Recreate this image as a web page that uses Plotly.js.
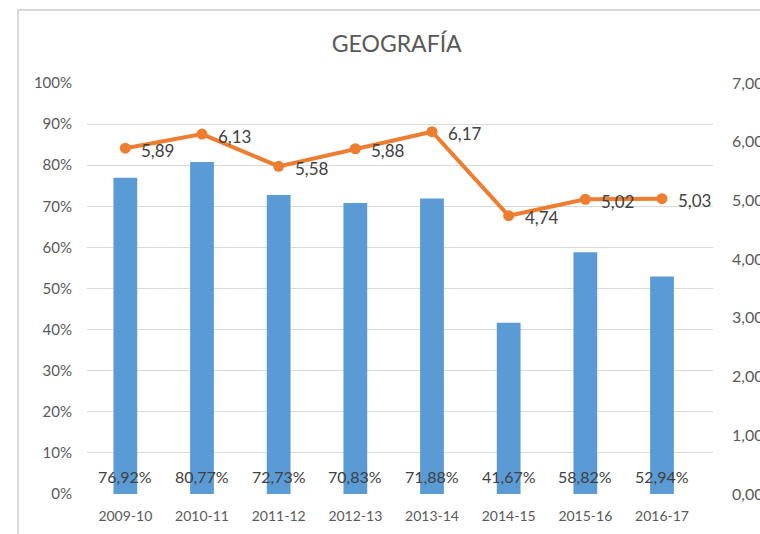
<!DOCTYPE html>
<html>
<head>
<meta charset="utf-8">
<script src="https://cdn.plot.ly/plotly-3.0.1.min.js"></script>
<style>
  html, body { margin:0; padding:0; background:#fff; overflow:hidden; }
  #frame { position:absolute; left:17px; top:9px; width:800px; height:600px; border-left:2px solid #d9d9d9; border-top:2px solid #d9d9d9; }
  #chart { position:absolute; left:0; top:0; width:760px; height:534px; }
</style>
</head>
<body>
<div id="frame"></div>
<div id="chart"></div>
<script>
const categories = ['2009-10','2010-11','2011-12','2012-13','2013-14','2014-15','2015-16','2016-17'];
const pctValues = [76.92, 80.77, 72.73, 70.83, 71.88, 41.67, 58.82, 52.94];
const gradeValues = [5.89, 6.13, 5.58, 5.88, 6.17, 4.74, 5.02, 5.03];
const leftTicks = [0,10,20,30,40,50,60,70,80,90,100];
const rightTicks = [0,1,2,3,4,5,6,7];

const fmt = (v, d) => v.toFixed(d).replace('.', ',');
const FONT = 'Lato, "Open Sans", sans-serif';

const bars = {
  type:'bar', x:categories, y:pctValues,
  marker:{color:'#5b9bd5'},
  hoverinfo:'skip', showlegend:false
};
const line = {
  type:'scatter', mode:'lines+markers', x:categories, y:gradeValues, yaxis:'y2',
  line:{color:'#ed7d31', width:4},
  marker:{color:'#ed7d31', size:11},
  cliponaxis:false,
  hoverinfo:'skip', showlegend:false
};

const barLabels = categories.map((c, i) => ({
  x:c, y:0, xref:'x', yref:'y', text: fmt(pctValues[i],2) + '%',
  showarrow:false, xanchor:'center', yanchor:'middle', yshift:18,
  font:{family:FONT, size:16, color:'#404040'}
}));
const lineLabels = categories.map((c, i) => ({
  x:c, y:gradeValues[i], xref:'x', yref:'y2', text: fmt(gradeValues[i],2),
  showarrow:false, xanchor:'left', yanchor:'middle', xshift:14, yshift:-2,
  font:{family:FONT, size:17, color:'#404040'}
}));

const layout = {
  width:760, height:534,
  margin:{l:87, r:47, t:83, b:40},
  paper_bgcolor:'rgba(0,0,0,0)', plot_bgcolor:'rgba(0,0,0,0)',
  bargap:0.69,
  title:{text:'GEOGRAFÍA', x:0.522, xanchor:'center', y:0.9176, yanchor:'middle',
         font:{family:FONT, size:23, color:'#595959'}},
  xaxis:{type:'category', showgrid:false, zeroline:false, showline:false, ticks:'',
         ticklabelstandoff:12,
         tickfont:{family:FONT, size:14, color:'#595959'}},
  yaxis:{range:[0,100], tickvals:leftTicks, ticktext:leftTicks.map(v => v + '%'),
         showgrid:true, gridcolor:'#d9d9d9', gridwidth:1, zeroline:false, showline:false, ticks:'',
         ticklabelstandoff:14,
         tickfont:{family:FONT, size:15, color:'#595959'}},
  yaxis2:{range:[0,7], overlaying:'y', side:'right', tickvals:rightTicks,
          ticktext:rightTicks.map(v => fmt(v,2)),
          showgrid:false, zeroline:false, showline:false, ticks:'',
          ticklabelstandoff:18,
          tickfont:{family:FONT, size:16, color:'#595959'}},
  annotations: barLabels.concat(lineLabels),
  font:{family:FONT}
};

Plotly.newPlot('chart', [bars, line], layout, {staticPlot:true, displayModeBar:false});
</script>
</body>
</html>
